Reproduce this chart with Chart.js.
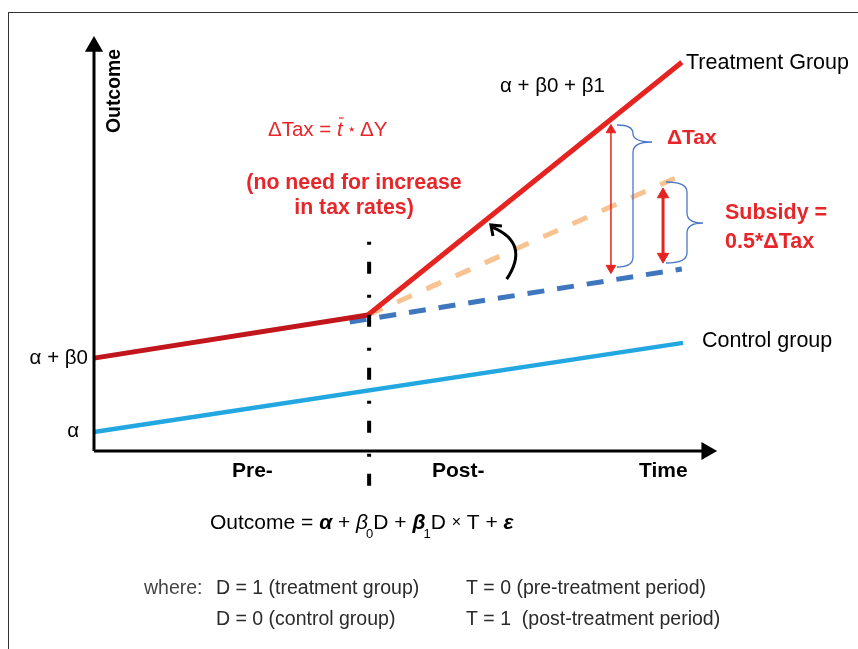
<!DOCTYPE html>
<html>
<head>
<meta charset="utf-8">
<script src="https://cdn.jsdelivr.net/npm/chart.js@4"></script>
<style>
  html, body { margin: 0; padding: 0; background: #fff; }
  #wrap { width: 858px; height: 649px; }
</style>
</head>
<body>
<div id="wrap"><canvas id="didChart" width="858" height="649"></canvas></div>
<script>
// Difference-in-differences sketch, x = time, y = outcome (axis units 0..100)
const controlX = [0, 97.2];
const control = [4.6, 26.3];
const treatPreX = [0, 45.2];
const treatPre = [22.6, 33.1];
const treatPostX = [45.2, 97.0];
const treatPost = [33.1, 94.6];
const counterX = [42.2, 97.0];
const counterfactual = [31.4, 44.3];
const halfX = [45.2, 95.9];
const halfway = [33.1, 66.4];
const cutX = [45.4, 45.4];
const cutY = [50.9, -9.5];
const taxArrowX = [85.3, 85.3];
const taxArrowY = [44.5, 78.1];
const subArrowX = [93.9, 93.9];
const subArrowY = [47.3, 62.4];
const yAxisX = [0, 0];
const yAxisY = [0, 98.4];
const xAxisX = [0, 101.1];
const xAxisY = [0, 0];

const FONT = "'Liberation Sans', Arial, sans-serif";
const RED = '#e8262a';

function pts(xs, ys) { return xs.map((x, i) => ({x: x, y: ys[i]})); }

function line(xs, ys, color, width, extra) {
  return Object.assign({
    data: pts(xs, ys),
    showLine: true,
    borderColor: color,
    backgroundColor: color,
    borderWidth: width,
    pointRadius: 0,
    borderCapStyle: 'butt'
  }, extra || {});
}

function arrowEnds(color, r) {
  return {
    pointStyle: 'triangle',
    pointRadius: [r, r],
    pointRotation: [180, 0],
    pointBackgroundColor: color,
    pointBorderColor: color,
    pointBorderWidth: 1
  };
}

// braces, curved arrow and all labels
const notes = {
  id: 'notes',
  afterDatasetsDraw(chart) {
    const c = chart.ctx;
    const sx = chart.scales.x, sy = chart.scales.y;
    const X = v => sx.getPixelForValue(v), Y = v => sy.getPixelForValue(v);
    c.save();

    // outer frame
    c.strokeStyle = '#333';
    c.lineWidth = 1;
    c.strokeRect(8.5, 12.5, 900, 700);

    // curly braces
    function brace(x0, xs, xt, yTop, yTip, yBot) {
      const r1 = Math.min(10, (yTip - yTop) / 2), r2 = Math.min(10, (yBot - yTip) / 2);
      c.beginPath();
      c.moveTo(x0, yTop);
      c.quadraticCurveTo(xs, yTop, xs, yTop + r1);
      c.lineTo(xs, yTip - r1);
      c.quadraticCurveTo(xs, yTip, xt, yTip);
      c.quadraticCurveTo(xs, yTip, xs, yTip + r2);
      c.lineTo(xs, yBot - r2);
      c.quadraticCurveTo(xs, yBot, x0, yBot);
      c.stroke();
    }
    c.strokeStyle = '#4a78c8';
    c.lineWidth = 1.3;
    brace(617, 633, 652, 125, 142, 267);
    brace(666, 687, 703, 182, 223, 263);

    // curved arrow
    c.strokeStyle = '#000';
    c.lineWidth = 3;
    c.beginPath();
    c.moveTo(X(68.1), Y(41.8));
    c.quadraticCurveTo(X(72.0), Y(50.5), X(65.8), Y(54.4));
    c.stroke();
    c.beginPath();
    c.moveTo(X(65.5) + 11, Y(55.0) + 1);
    c.lineTo(X(65.5), Y(55.0));
    c.lineTo(X(65.5) + 2, Y(55.0) + 11);
    c.stroke();

    function txt(s, x, y, font, color, align) {
      c.font = font;
      c.fillStyle = color || '#000';
      c.textAlign = align || 'left';
      c.textBaseline = 'middle';
      c.fillText(s, x, y);
    }
    function runs(parts, x, y) {
      c.textAlign = 'left';
      c.textBaseline = 'middle';
      parts.forEach(p => {
        c.font = p.f;
        c.fillStyle = p.c || '#000';
        c.fillText(p.t, x, y + (p.dy || 0));
        const w = c.measureText(p.t).width;
        if (p.bar) {
          c.strokeStyle = p.c; c.lineWidth = 1.2;
          c.beginPath(); c.moveTo(x + 2, y - 12); c.lineTo(x + w + 1, y - 12); c.stroke();
        }
        x += p.adv !== undefined ? p.adv : w;
      });
    }

    // axis title
    c.save();
    c.translate(115, 91);
    c.rotate(-Math.PI / 2);
    txt('Outcome', 0, 0, 'bold 19.4px ' + FONT, '#000', 'center');
    c.restore();

    txt('Treatment Group', 686, 63, '21.5px ' + FONT);
    txt('α + β0 + β1', 500, 86, '20.5px ' + FONT);
    txt('Control group', 702, 341, '21.5px ' + FONT);
    txt('α + β0', 88, Y(treatPre[0]), '20.5px ' + FONT, '#000', 'right');
    txt('α', 79, Y(control[0]) - 1, '20.5px ' + FONT, '#000', 'right');

    runs([
      {t: 'ΔTax = ', f: '20.5px ' + FONT, c: RED},
      {t: 't', f: 'italic 20.5px ' + FONT, c: RED, bar: true},
      {t: ' \u22C6 ', f: '15px ' + FONT, c: RED},
      {t: 'ΔY', f: '20.5px ' + FONT, c: RED}
    ], 268, 130);
    txt('(no need for increase', 354, 183, 'bold 21.3px ' + FONT, RED, 'center');
    txt('in tax rates)', 354, 208, 'bold 21.3px ' + FONT, RED, 'center');
    txt('ΔTax', 667, 138, 'bold 21px ' + FONT, RED);
    txt('Subsidy =', 725, 213, 'bold 21.5px ' + FONT, RED);
    txt('0.5*ΔTax', 725, 242, 'bold 21.5px ' + FONT, RED);

    txt('Pre-', 232, 471, 'bold 21px ' + FONT);
    txt('Post-', 432, 471, 'bold 21px ' + FONT);
    txt('Time', 639, 471, 'bold 21px ' + FONT);

    // regression equation
    const R = '21px ' + FONT, I = 'italic 21px ' + FONT, BI = 'bold italic 21px ' + FONT, S = '13px ' + FONT;
    runs([
      {t: 'Outcome = ', f: R},
      {t: 'α', f: BI},
      {t: ' + ', f: R},
      {t: 'β', f: I, adv: 10},
      {t: '0', f: S, dy: 11},
      {t: 'D + ', f: R},
      {t: 'β', f: BI, adv: 11},
      {t: '1', f: S, dy: 11},
      {t: 'D ', f: R},
      {t: '×', f: '16px ' + FONT},
      {t: ' T + ', f: R},
      {t: 'ε', f: BI}
    ], 210, 523);

    const W = '19.5px ' + FONT, G = '#2a2a2a';
    txt('where:', 144, 589, W, '#444');
    txt('D = 1 (treatment group)', 216, 589, W, G);
    txt('D = 0 (control group)', 216, 620, W, G);
    txt('T = 0 (pre-treatment period)', 466, 589, W, G);
    txt('T = 1  (post-treatment period)', 466, 620, W, G);

    c.restore();
  }
};

new Chart(document.getElementById('didChart'), {
  type: 'scatter',
  data: {
    datasets: [
      line(controlX, control, '#22a7e0', 4.5, {order: 9}),
      line(counterX, counterfactual, '#3f77bf', 5, {borderDash: [17, 13], order: 8}),
      line(halfX, halfway, '#f8c291', 5, {borderDash: [16, 16], order: 7}),
      line(treatPreX, treatPre, '#c0161c', 5, {order: 6}),
      line(treatPostX, treatPost, '#e52421', 5, {order: 5}),
      line(cutX, cutY, '#000', 4, {borderDash: [3, 17, 12, 21], order: 4}),
      line(taxArrowX, taxArrowY, '#e52421', 1.5, Object.assign(arrowEnds('#e52421', 5.5), {order: 3})),
      line(subArrowX, subArrowY, '#e52421', 3, Object.assign(arrowEnds('#e52421', 6.5), {order: 2})),
      line(yAxisX, yAxisY, '#000', 3, {pointStyle: 'triangle', pointRadius: [0, 7.5], pointRotation: [0, 0], pointBackgroundColor: '#000', pointBorderColor: '#000', order: 1}),
      line(xAxisX, xAxisY, '#000', 3, {pointStyle: 'triangle', pointRadius: [0, 7.5], pointRotation: [0, 90], pointBackgroundColor: '#000', pointBorderColor: '#000', order: 0})
    ]
  },
  options: {
    responsive: false,
    animation: false,
    events: [],
    layout: { padding: 0, autoPadding: false },
    plugins: { legend: { display: false }, tooltip: { enabled: false } },
    scales: {
      x: { type: 'linear', min: -15.51, max: 126.07, display: false },
      y: { type: 'linear', min: -48.18, max: 109.73, display: false }
    }
  },
  plugins: [notes]
});
</script>
</body>
</html>
